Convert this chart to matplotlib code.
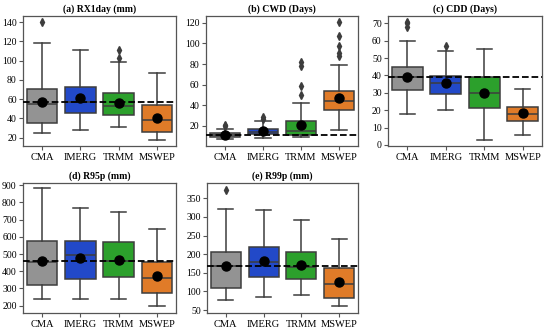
import matplotlib
matplotlib.use('Agg')
import matplotlib.pyplot as plt

plt.rcParams['font.family'] = ['Liberation Serif', 'DejaVu Serif']

products = ['CMA', 'IMERG', 'TRMM', 'MSWEP']
colors = ['#939393', '#2249c8', '#2ca02c', '#e07b28']

titles = ['(a) RX1day (mm)', '(b) CWD (Days)', '(c) CDD (Days)',
          '(d) R95p (mm)', '(e) R99p (mm)']

# per panel: [whislo, q1, med, q3, whishi] for each product
rx1day = [[25, 35, 55, 71, 118], [28, 46, 57, 73, 111],
          [31, 44, 53, 66, 99], [18, 26, 38, 54, 87]]
cwd = [[7, 9.5, 11, 13, 17], [8, 12, 14, 17, 25],
       [9, 11, 15, 25, 42], [16, 35, 44, 54, 79]]
cdd = [[18, 31.5, 39, 45, 60], [20, 29.5, 35.5, 39.5, 54],
       [3, 21, 30, 39, 55], [6, 14, 18, 22, 32]]
r95p = [[240, 318, 455, 575, 882], [240, 355, 497, 575, 770],
        [237, 368, 460, 572, 745], [195, 272, 360, 455, 645]]
r99p = [[78, 110, 168, 207, 320], [85, 138, 178, 218, 318],
        [89, 133, 165, 205, 292], [60, 83, 120, 162, 241]]

means = [[57.5, 61, 56, 41], [11.5, 15.5, 21, 47.5], [39, 35.5, 30, 18.5],
         [458, 478, 463, 372], [168, 181, 170, 125]]
fliers = [[[140], [], [103, 111], []],
          [[20, 21], [27, 29], [50, 59, 78, 82], [88, 91, 97, 107, 121]],
          [[68, 70, 71], [57], [], []],
          [[], [], [], []],
          [[373], [], [], []]]
ref_lines = [57.5, 11, 39, 458, 168]

stats_all = [rx1day, cwd, cdd, r95p, r99p]
ylims = [(11.4, 146.5), (0.6, 126.5), (-0.6, 74.2), (157, 913), (42, 391)]
yticks = [range(20, 141, 20), range(20, 121, 20), range(0, 71, 10),
          range(200, 901, 100), range(50, 351, 50)]

# axes rectangles in pixels: left, top, right, bottom
W, H = 550, 331
rects = [(23, 16, 176, 146), (206, 16, 358, 146), (388, 16, 542, 146),
         (23, 183, 176, 313), (207, 183, 358, 313)]

fig = plt.figure(figsize=(5.5, 3.31), dpi=100)

edge = '#3d3d3d'
for i in range(5):
    l, t, r, b = rects[i]
    ax = fig.add_axes([l / W, 1 - b / H, (r - l) / W, (b - t) / H])
    stats = []
    for j in range(4):
        lo, q1, med, q3, hi = stats_all[i][j]
        stats.append(dict(whislo=lo, q1=q1, med=med, q3=q3, whishi=hi,
                          mean=means[i][j], fliers=fliers[i][j]))
    bp = ax.bxp(stats, positions=range(4), widths=0.8, patch_artist=True,
                showmeans=True,
                boxprops=dict(edgecolor=edge, linewidth=1.1),
                medianprops=dict(color=edge, linewidth=1.1),
                whiskerprops=dict(color=edge, linewidth=1.1),
                capprops=dict(color=edge, linewidth=1.1),
                meanprops=dict(marker='o', markerfacecolor='black',
                               markeredgecolor='black', markersize=6.5),
                flierprops=dict(marker='d', markerfacecolor=edge,
                                markeredgecolor=edge, markersize=4))
    for patch, c in zip(bp['boxes'], colors):
        patch.set_facecolor(c)
    for cap in bp['caps']:
        x = cap.get_xdata()
        mid = (x[0] + x[1]) / 2
        cap.set_xdata([mid - 0.2, mid + 0.2])
    ax.axhline(ref_lines[i], color='black', linestyle='--', linewidth=1.3,
               zorder=5)
    ax.set_xlim(-0.5, 3.5)
    ax.set_ylim(*ylims[i])
    ax.set_yticks(list(yticks[i]))
    ax.set_xticks(range(4))
    ax.set_xticklabels(products, fontsize=7.5)
    ax.tick_params(axis='y', labelsize=7, length=3, pad=1.5, color='#555555')
    ax.tick_params(axis='x', length=3, pad=2, color='#555555')
    ax.set_title(titles[i], fontsize=7, fontweight='bold', pad=3)
    for s in ax.spines.values():
        s.set_color('#555555')
        s.set_linewidth(0.9)

fig.savefig('out.png', dpi=100)
